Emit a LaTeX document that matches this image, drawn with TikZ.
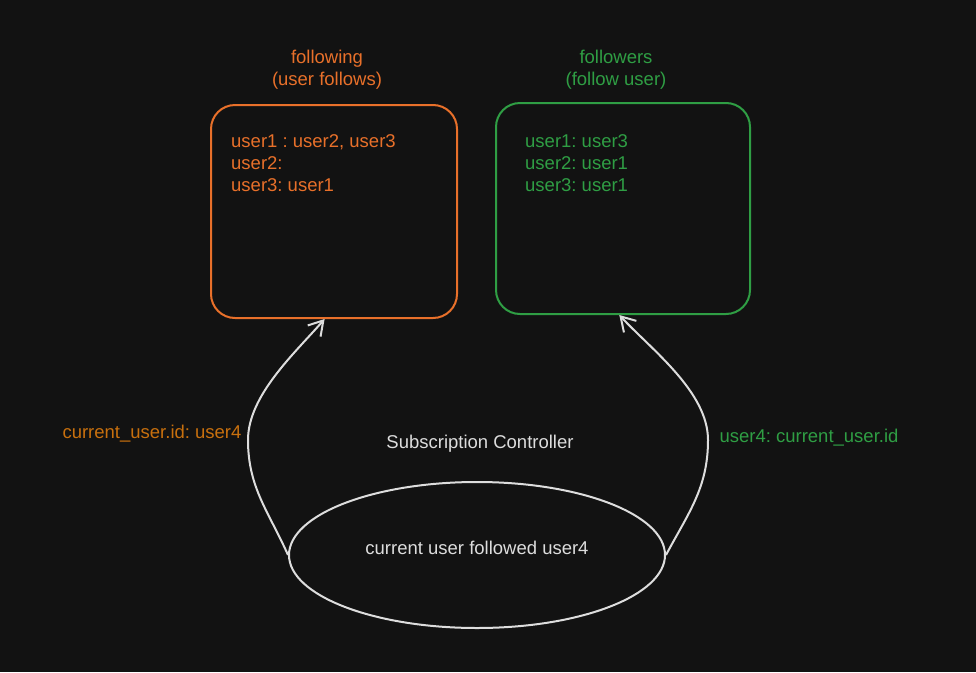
\documentclass[tikz,border=0pt]{standalone}
\usepackage{fontspec}
\setmainfont{Liberation Sans}
\usetikzlibrary{shapes.geometric,arrows.meta}
\frenchspacing

\definecolor{bgdark}{HTML}{121212}
\definecolor{orangeline}{HTML}{E8702A}
\definecolor{orangelabel}{HTML}{C8700E}
\definecolor{greenline}{HTML}{2F9E44}
\definecolor{lightline}{HTML}{DDDDDD}

\tikzset{
  txt/.style={font=\fontsize{18.5}{22}\selectfont},
  store/.style={draw,line width=2pt,rounded corners=24pt,minimum width=246pt,minimum height=213pt},
  flow/.style={draw=lightline,line width=2pt,-{Straight Barb[length=14pt,width=17pt,line width=2pt]}}
}

\begin{document}
\begin{tikzpicture}[x=1pt,y=-1pt]
  % Background
  \fill[bgdark] (0,0) rectangle (976,672);
  \useasboundingbox (0,0) rectangle (976,672);

  % Boxes
  \node[store,draw=orangeline] (following) at (334,211.5) {};
  \node[store,draw=greenline,minimum width=254pt,minimum height=211pt] (followers) at (623,208.5) {};

  \node[txt,text=orangeline,align=center] (followingtitle) at (327,70) {following\\(user follows)};
  \node[txt,text=greenline,align=center] (followerstitle) at (616,70) {followers\\(follow user)};

  \node[txt,text=orangeline,align=left,anchor=north west,inner sep=0pt] (followingdata) at (231,134)
    {user1 : user2, user3\\user2:\\user3: user1};
  \node[txt,text=greenline,align=left,anchor=north west,inner sep=0pt] (followersdata) at (525,134)
    {user1: user3\\user2: user1\\user3: user1};

  % Controller
  \node[txt,text=lightline] (ctrltitle) at (480,444) {Subscription Controller};
  \node[ellipse,draw=lightline,line width=2pt,minimum width=376pt,minimum height=146pt] (ctrl) at (477,555) {};
  \node[txt,text=lightline] (ctrltext) at (477,548) {current user followed user4};

  % Arrows
  \coordinate (lbend) at (248,440);
  \coordinate (rbend) at (708,440);
  \draw[flow] (ctrl.west) to[out=114,in=-90] (lbend) to[out=90,in=229,looseness=0.8] (following.265);
  \draw[flow] (ctrl.east) to[out=62,in=-90] (rbend) to[out=90,in=313,looseness=0.8] (followers.268);

  \node[txt,text=orangelabel,anchor=east] (leftlabel) at (245,434) {current\_user.id: user4};
  \node[txt,text=greenline,anchor=west] (rightlabel) at (716,438) {user4: current\_user.id};

\end{tikzpicture}
\end{document}
